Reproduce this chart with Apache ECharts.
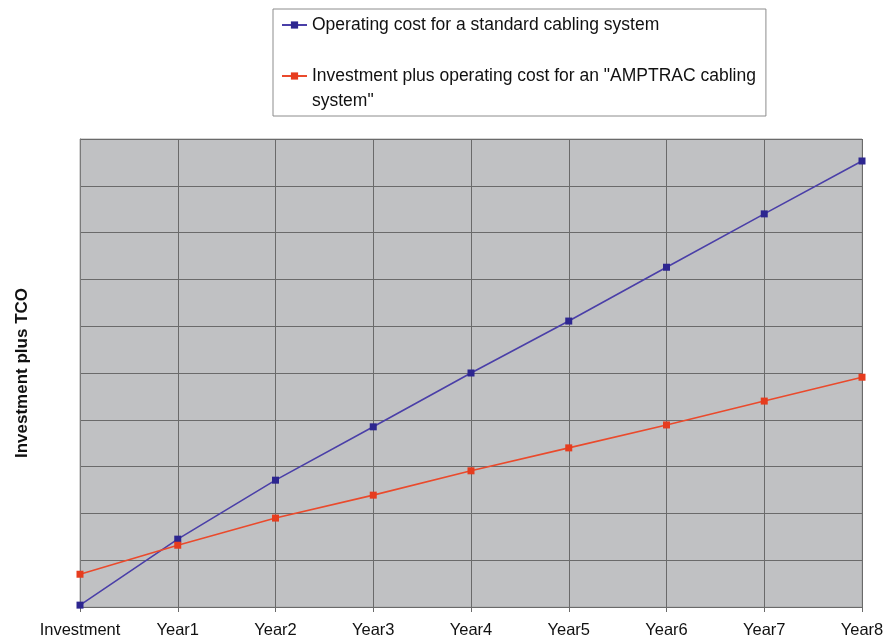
<!DOCTYPE html>
<html>
<head>
<meta charset="utf-8">
<script src="https://cdn.jsdelivr.net/npm/echarts@6/dist/echarts.min.js"></script>
<style>
html,body{margin:0;padding:0;background:#fff;}
#chart{width:893px;height:637px;}
</style>
</head>
<body>
<div id="chart"></div>
<script>
var categories = ['Investment','Year1','Year2','Year3','Year4','Year5','Year6','Year7','Year8'];
var standardCost = [0.4, 14.5, 27.1, 38.5, 50.0, 61.1, 72.6, 84.0, 95.3];
var amptracCost = [7.0, 13.2, 19.0, 23.9, 29.1, 34.0, 38.9, 44.0, 49.1];
var seriesNames = ['Operating cost for a standard cabling system',
  'Investment plus operating cost for an "AMPTRAC cabling'];
var seriesNameCont = 'system"';
var yAxisName = 'Investment plus TCO';

var chart = echarts.init(document.getElementById('chart'));
chart.setOption({
  animation: false,
  backgroundColor: '#ffffff',
  textStyle: {fontFamily: 'Liberation Sans, Arial, sans-serif'},
  legend: {
    orient: 'vertical',
    left: 273,
    top: 9,
    padding: [6, 10, 30, 8],
    borderColor: '#8c8c8c',
    borderWidth: 1,
    backgroundColor: '#ffffff',
    itemWidth: 25,
    itemHeight: 9,
    itemGap: 31,
    textStyle: {fontSize: 17.5, color: '#111', lineHeight: 20, fontFamily: 'Liberation Sans, Arial, sans-serif'},
    data: seriesNames
  },
  graphic: [{
    type: 'text',
    left: 312,
    top: 92,
    z: 100,
    zlevel: 1,
    style: {text: seriesNameCont, fontSize: 17.5, fill: '#111', fontFamily: 'Liberation Sans, Arial, sans-serif'}
  }],
  grid: {
    left: 80, right: 31, top: 139, bottom: 30,
    outerBoundsMode: 'none',
    containLabel: false,
    show: true,
    backgroundColor: '#c0c1c3',
    borderColor: '#a9a9a9',
    borderWidth: 1
  },
  xAxis: {
    type: 'category',
    data: categories,
    boundaryGap: false,
    axisLine: {show: true, lineStyle: {color: '#6a6a6a', width: 1}},
    axisTick: {show: true, interval: 0, length: 5, alignWithLabel: true, lineStyle: {color: '#6a6a6a'}},
    axisLabel: {interval: 0, hideOverlap: false, fontSize: 16.5, color: '#111', margin: 15, fontFamily: 'Liberation Sans, Arial, sans-serif'},
    splitLine: {show: true, interval: 0, lineStyle: {color: '#6a6a6a', width: 1}}
  },
  yAxis: {
    type: 'value',
    min: 0, max: 100, interval: 10,
    name: yAxisName,
    nameLocation: 'middle',
    nameGap: 49,
    nameTextStyle: {fontSize: 17, fontWeight: 'bold', color: '#111', fontFamily: 'Liberation Sans, Arial, sans-serif'},
    axisLine: {show: true, lineStyle: {color: '#7a7a7a'}},
    axisTick: {show: false},
    axisLabel: {show: false},
    splitLine: {show: true, lineStyle: {color: '#6a6a6a', width: 1}}
  },
  series: [{
    name: seriesNames[0],
    type: 'line',
    data: standardCost,
    symbol: 'rect',
    symbolSize: 7,
    lineStyle: {color: '#4a3fa8', width: 1.6},
    itemStyle: {color: '#2d2690'}
  }, {
    name: seriesNames[1],
    type: 'line',
    data: amptracCost,
    symbol: 'rect',
    symbolSize: 7,
    lineStyle: {color: '#ea4a2c', width: 1.6},
    itemStyle: {color: '#e63c1e'}
  }]
});
</script>
</body>
</html>
